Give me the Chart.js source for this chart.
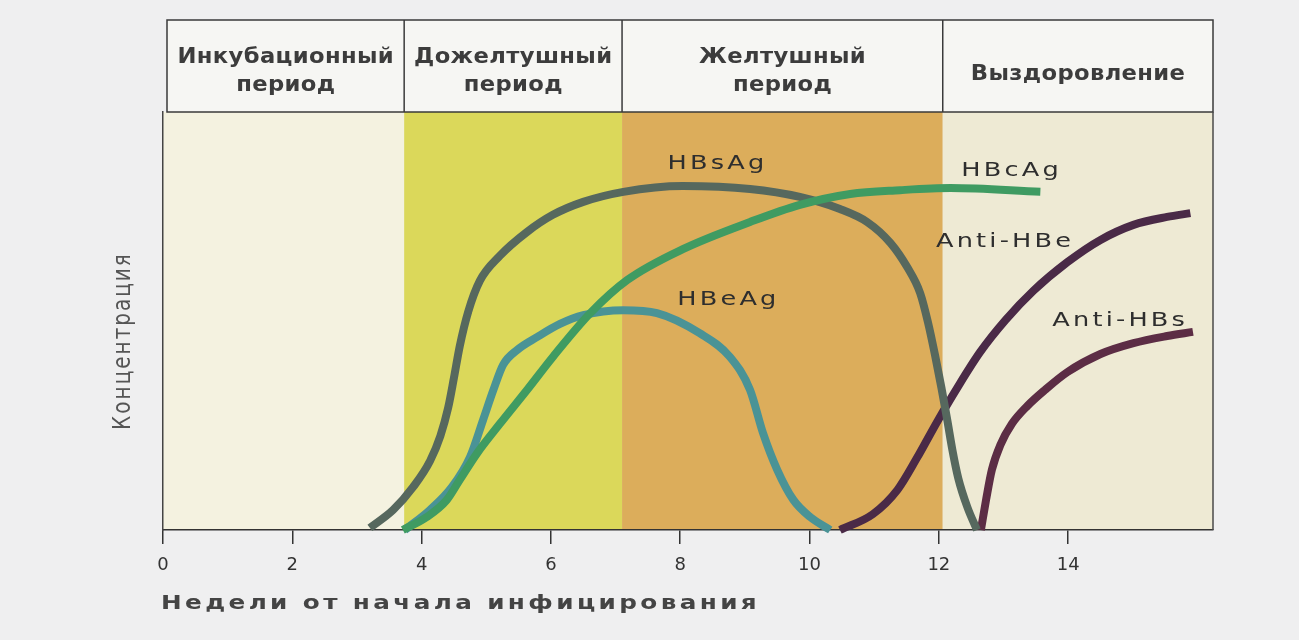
<!DOCTYPE html>
<html>
<head>
<meta charset="utf-8">
<script src="https://cdn.jsdelivr.net/npm/chart.js@4.4.1/dist/chart.umd.min.js"></script>
<style>
  body { margin: 0; background: #efeff0; }
  #wrap { width: 1299px; height: 640px; }
</style>
</head>
<body>
<div id="wrap"><canvas id="chart" width="1299" height="640"></canvas></div>
<script>
// weeks on x, concentration (0..100) on y
const tickWeeks = [0, 2, 4, 6, 8, 10, 12, 14];

const hbsX = [3.2, 3.56, 3.87, 4.13, 4.29, 4.41, 4.5, 4.59, 4.72, 4.9, 5.21, 5.63, 6.03, 6.5, 7.12, 8.04, 9.08, 9.85, 10.47, 10.89, 11.25, 11.51, 11.71, 11.83, 11.94, 12.04, 12.13, 12.21, 12.3, 12.44, 12.59];
const hbsY = [0.5, 4.8, 10.3, 16.5, 22.5, 29.2, 36.4, 44, 52.2, 59.6, 65.6, 71.3, 75.4, 78.5, 80.9, 82.3, 81.6, 79.7, 76.8, 73.7, 68.7, 62.9, 56.7, 49.8, 41.9, 34, 26.3, 19.1, 12.4, 5.5, 0];

const hbeX = [3.74, 4.13, 4.47, 4.75, 4.95, 5.11, 5.26, 5.48, 5.79, 6.14, 6.5, 7.12, 7.64, 8.3, 8.77, 9.08, 9.28, 9.5, 9.75, 10.01, 10.32];
const hbeY = [0, 4.8, 10.3, 17.5, 26.3, 33.5, 39.5, 43.1, 46.2, 49.3, 51.4, 52.6, 51.9, 47.1, 41.4, 33.5, 23.2, 14.4, 7.2, 3.1, 0];

const hbcX = [3.71, 4.08, 4.39, 4.59, 4.86, 5.21, 5.63, 6.03, 6.61, 7.18, 8.04, 9.08, 9.85, 10.63, 11.4, 12.18, 13.57];
const hbcY = [0, 3.1, 7.2, 12, 18.4, 25.4, 33.5, 41.4, 51.9, 59.8, 67.2, 73.7, 77.8, 80.4, 81.3, 81.8, 80.9];

const antiHbeX = [10.47, 10.98, 11.36, 11.66, 11.97, 12.28, 12.64, 13.03, 13.46, 13.99, 14.5, 15.01, 15.53, 15.89];
const antiHbeY = [0, 3.8, 9.6, 17.2, 25.8, 33.9, 42.6, 50.2, 57.2, 64.1, 69.4, 73, 74.9, 75.8];

const antiHbsX = [12.65, 12.73, 12.82, 12.95, 13.13, 13.37, 13.64, 13.99, 14.5, 15.01, 15.53, 15.93];
const antiHbsY = [0, 7.2, 14.4, 20.3, 25.4, 29.7, 33.5, 37.8, 42.1, 44.7, 46.4, 47.4];

// periods
const periodNames = [["Инкубационный", "период"], ["Дожелтушный", "период"], ["Желтушный", "период"], ["Выздоровление"]];
const periodEdges = [3.73, 7.1, 12.06];
const periodColors = ["#f4f2e0", "#dbd85a", "#dcad5b", "#eeead4"];

// curve names and where they are written (weeks, concentration)
const curveNames = ["HBsAg", "HBcAg", "HBeAg", "Anti-HBe", "Anti-HBs"];
const curveNameX = [8.55, 13.1, 8.72, 13.0, 14.78];
const curveNameY = [87.6, 86, 55, 69, 50];

function toPoints(xs, ys) {
    return xs.map((x, i) => ({ x: x, y: ys[i] }));
}

// text looks horizontally stretched in the original, so draw it scaled
function wideText(ctx, text, x, y, spacing, sx, sy, align) {
    ctx.save();
    ctx.translate(x, y);
    ctx.scale(sx, sy);
    ctx.letterSpacing = spacing + "px";
    const w = ctx.measureText(text).width - spacing;
    ctx.textAlign = "left";
    ctx.fillText(text, align === "left" ? 0 : -w / 2, 0);
    ctx.restore();
}

const backdrop = {
    id: "backdrop",
    beforeDraw(chart) {
        const ctx = chart.ctx;
        const area = chart.chartArea;
        const xs = chart.scales.x;
        const edges = [area.left].concat(periodEdges.map(v => xs.getPixelForValue(v)), [area.right]);
        ctx.save();
        for (let i = 0; i < periodColors.length; i++) {
            ctx.fillStyle = periodColors[i];
            ctx.fillRect(edges[i], area.top, edges[i + 1] - edges[i], area.bottom - area.top);
        }
        // header row
        const top = 20;
        const left = area.left + 4;
        ctx.fillStyle = "#f6f6f3";
        ctx.fillRect(left, top, area.right - left, area.top - top);
        ctx.strokeStyle = "#3a3a3a";
        ctx.lineWidth = 1.5;
        ctx.strokeRect(left, top, area.right - left, area.top - top);
        for (let i = 1; i < edges.length - 1; i++) {
            ctx.beginPath();
            ctx.moveTo(edges[i], top);
            ctx.lineTo(edges[i], area.top);
            ctx.stroke();
        }
        ctx.fillStyle = "#3c3c3c";
        ctx.font = "bold 21px 'DejaVu Sans Condensed'";
        ctx.textBaseline = "middle";
        periodNames.forEach((lines, i) => {
            const cx = (edges[i] + edges[i + 1]) / 2 + (i === 0 ? 2 : 0);
            if (lines.length === 2) {
                wideText(ctx, lines[0], cx, 58, 0.3, 1.2, 1);
                wideText(ctx, lines[1], cx, 86, 0.3, 1.2, 1);
            } else {
                wideText(ctx, lines[0], cx, 75, 0.3, 1.2, 1);
            }
        });
        ctx.restore();
    },
    afterDraw(chart) {
        const ctx = chart.ctx;
        const area = chart.chartArea;
        const xs = chart.scales.x;
        const ys = chart.scales.y;
        ctx.save();
        ctx.strokeStyle = "#4a4a4a";
        ctx.lineWidth = 1.5;
        ctx.beginPath();
        ctx.moveTo(area.right, area.top);
        ctx.lineTo(area.right, area.bottom);
        ctx.stroke();

        ctx.fillStyle = "#2e2e2e";
        ctx.font = "20px 'DejaVu Sans'";
        ctx.textBaseline = "middle";
        curveNames.forEach((name, i) => {
            wideText(ctx, name, xs.getPixelForValue(curveNameX[i]), ys.getPixelForValue(curveNameY[i]), 2.5, 1.28, 1);
        });

        // axis titles
        ctx.fillStyle = "#444";
        ctx.font = "bold 19px 'DejaVu Sans'";
        wideText(ctx, "Недели от начала инфицирования", area.left - 2, 604, 2.6, 1.3, 1, "left");

        ctx.translate(123, 342);
        ctx.rotate(-Math.PI / 2);
        ctx.fillStyle = "#555";
        ctx.font = "20px 'DejaVu Sans'";
        wideText(ctx, "Концентрация", 0, 0, 2, 1, 1.25);
        ctx.restore();
    }
};

function line(label, xs, ys, color) {
    return {
        label: label,
        data: toPoints(xs, ys),
        borderColor: color,
        borderWidth: 8,
        pointRadius: 0,
        cubicInterpolationMode: "monotone",
        fill: false,
        clip: 8
    };
}

new Chart(document.getElementById("chart"), {
    type: "line",
    data: {
        datasets: [
            line("HBcAg", hbcX, hbcY, "#3f9b62"),
            line("HBsAg", hbsX, hbsY, "#56685e"),
            line("HBeAg", hbeX, hbeY, "#4a9396"),
            line("Anti-HBe", antiHbeX, antiHbeY, "#4a2a47"),
            line("Anti-HBs", antiHbsX, antiHbsY, "#5c2d45")
        ]
    },
    options: {
        responsive: false,
        animation: false,
        layout: { padding: { top: 112, right: 86, left: 0, bottom: 0 } },
        plugins: { legend: { display: false }, tooltip: { enabled: false } },
        scales: {
            x: {
                type: "linear",
                min: 0,
                max: 16.24,
                afterBuildTicks: scale => { scale.ticks = tickWeeks.map(v => ({ value: v })); },
                afterFit: scale => { scale.height = 110; },
                grid: { drawOnChartArea: false, drawTicks: true, tickLength: 14, color: "#333", lineWidth: 1.5 },
                border: { display: true, color: "#333", width: 1.5 },
                ticks: { color: "#333", font: { family: "DejaVu Sans", size: 18 }, padding: 11, maxRotation: 0 }
            },
            y: {
                min: 0,
                max: 100,
                afterFit: scale => { scale.width = 163; },
                grid: { display: false },
                border: { display: true, color: "#444", width: 1.5 },
                ticks: { display: false }
            }
        }
    },
    plugins: [backdrop]
});
</script>
</body>
</html>
